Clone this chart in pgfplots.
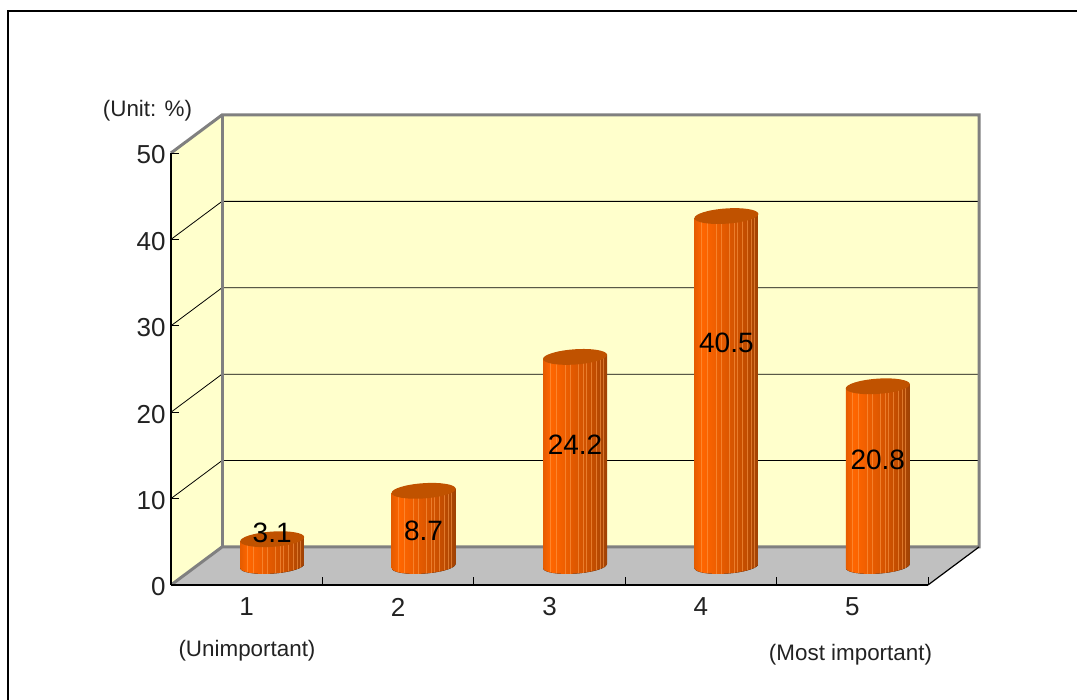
\documentclass[border=0pt]{standalone}
\usepackage{fontspec}
\setmainfont{Liberation Sans}
\usepackage{pgfplots}
\pgfplotsset{compat=1.18}
\usepackage{pgfplotstable}

\definecolor{wallyellow}{HTML}{FFFFCC}
\definecolor{floorgray}{HTML}{C0C0C0}
\definecolor{edgegray}{HTML}{808080}
\definecolor{captop}{HTML}{C05200}
\definecolor{stripe}{HTML}{FFA050}
\definecolor{inkdark}{HTML}{222222}

% Side-lit cylinder surface: 25bp..75bp spans the body from left to right
\pgfdeclarehorizontalshading{cylbody}{100bp}{
  rgb(0bp)=(0.90,0.36,0);
  rgb(25bp)=(0.90,0.36,0);
  rgb(31bp)=(1.00,0.40,0);
  rgb(38bp)=(0.96,0.38,0);
  rgb(52bp)=(0.86,0.34,0);
  rgb(65bp)=(0.76,0.30,0);
  rgb(75bp)=(0.62,0.26,0.02);
  rgb(100bp)=(0.62,0.26,0.02)
}

% Cylinder standing on the mid-depth floor line; \barh is its height in points.
% The ellipse axes are tilted by about four degrees.
\pgfdeclareplotmark{cyl}{%
  \pgfscope
    \pgftransformshift{\pgfpoint{25.5pt}{19pt}}%
    \pgfsetstrokeopacity{0}%
    \pgfscope
      \pgfpathmoveto{\pgfpoint{-32pt}{-2.2pt}}%
      \pgfpathlineto{\pgfpoint{-32pt}{-2.2pt-\barh pt}}%
      \pgfpathcurveto{\pgfpoint{-31.72pt}{-6.40pt-\barh pt}}{\pgfpoint{-17.17pt}{-8.815pt-\barh pt}}{\pgfpoint{0.5pt}{-7.6pt-\barh pt}}%
      \pgfpathcurveto{\pgfpoint{18.17pt}{-6.385pt-\barh pt}}{\pgfpoint{32.28pt}{-2.0pt-\barh pt}}{\pgfpoint{32pt}{2.2pt-\barh pt}}%
      \pgfpathlineto{\pgfpoint{32pt}{2.2pt}}%
      \pgfpathclose
      \pgfusepath{clip}%
      \fill[shading=cylbody,shading angle=0] (-32pt,-12pt-\barh pt) rectangle (32pt,12pt);
      \foreach \sx in {-25,-19,-10,-5,3,8,11,16,21,25,28}
        \draw[stripe,opacity=0.55,line width=0.7pt] (\sx pt,-14pt-\barh pt) -- (\sx pt,12pt);
    \endpgfscope
    \pgfsetfillcolor{captop}%
    \pgfpathellipse{\pgfpointorigin}{\pgfpoint{32pt}{2.2pt}}{\pgfpoint{-0.5pt}{7.6pt}}%
    \pgfusepath{fill}%
  \endpgfscope}

% Share of respondents per rating, and the height each value label sits at
\pgfplotstableread{
x   value labely
0.5 3.1   6.0
1.5 8.7   6.25
2.5 24.2  16.2
3.5 40.5  28.0
4.5 20.8  14.5
}\ratings

\begin{document}
\begin{tikzpicture}[x=1pt,y=1pt]
\path[use as bounding box] (0,0) rectangle (1077,700);
\draw[black,line width=2pt,line cap=rect] (7.5,0) -- (7.5,688.5) -- (1077,688.5);

\begin{axis}[
  at={(171pt,115pt)},
  anchor=origin,
  scale only axis,
  width=757pt,
  height=432pt,
  xmin=0, xmax=5,
  ymin=0, ymax=50,
  clip=false,
  axis on top,
  axis x line*=bottom,
  axis y line*=left,
  axis line style={black,line width=1.6pt},
  tick style={black,line width=0.9pt},
  tick align=inside,
  major tick length=8pt,
  xtick={1,2,3,4,5},
  xticklabels={},
  extra x ticks={0.5,1.5,2.5,3.5,4.5},
  extra x tick labels={1,2,3,4,5},
  extra x tick style={major tick length=0pt},
  ytick={0,10,20,30,40,50},
  /pgf/number format/assume math mode=true,
  tick label style={font=\fontsize{26}{30}\selectfont,text=inkdark},
  xticklabel style={anchor=center,yshift=-22pt},
  yticklabel style={anchor=east,xshift=-2pt,yshift=-2pt},
]
  % Walls and floor of the box, receding to the upper right
  \addplot[fill=wallyellow,draw=none] coordinates {(0.337,4.4)(5.337,4.4)(5.337,54.4)(0.337,54.4)} --cycle;
  \addplot[fill=wallyellow,draw=none] coordinates {(0,0)(0,50)(0.337,54.4)(0.337,4.4)} --cycle;
  \addplot[fill=floorgray,draw=none] coordinates {(0,0)(5,0)(5.337,4.4)(0.337,4.4)} --cycle;

  % Gridlines run along the side wall and across the back wall
  \addplot[black,line width=0.8pt] coordinates {(0,10)(0.337,14.4)(5.337,14.4)};
  \addplot[black,line width=0.8pt] coordinates {(0,20)(0.337,24.4)(5.337,24.4)};
  \addplot[black,line width=0.8pt] coordinates {(0,30)(0.337,34.4)(5.337,34.4)};
  \addplot[black,line width=0.8pt] coordinates {(0,40)(0.337,44.4)(5.337,44.4)};

  % Box outline
  \addplot[edgegray,line width=3pt,line join=miter] coordinates {(0,50)(0.337,54.4)(5.337,54.4)(5.337,4.4)(0.337,4.4)(0,0)};
  \addplot[edgegray,line width=3pt] coordinates {(0.337,4.4)(0.337,54.4)};
  \addplot[black,line width=1.2pt] coordinates {(5,0)(5.337,4.4)};

  % Cylinders
  \addplot[
    scatter,
    only marks,
    mark=cyl,
    visualization depends on={8.64*\thisrow{value} \as \barh},
    scatter/@pre marker code/.code={\scope},
    scatter/@post marker code/.code={\endscope},
  ] table[x=x,y=value] {\ratings};

  % Value labels
  \addplot[
    draw=none,
    mark=none,
    point meta=explicit symbolic,
    nodes near coords,
    every node near coord/.style={anchor=center,xshift=25.5pt,text=black,font=\fontsize{28}{32}\selectfont},
  ] table[x=x,y=labely,meta=value] {\ratings};
\end{axis}

\node[text=inkdark,font=\fontsize{22.4}{26}\selectfont] at (147.5,589) {(Unit: \%)};
\node[text=inkdark,font=\fontsize{22.4}{26}\selectfont] at (247,49) {(Unimportant)};
\node[text=inkdark,font=\fontsize{22.4}{26}\selectfont] at (850.5,45) {(Most important)};
\end{tikzpicture}
\end{document}
